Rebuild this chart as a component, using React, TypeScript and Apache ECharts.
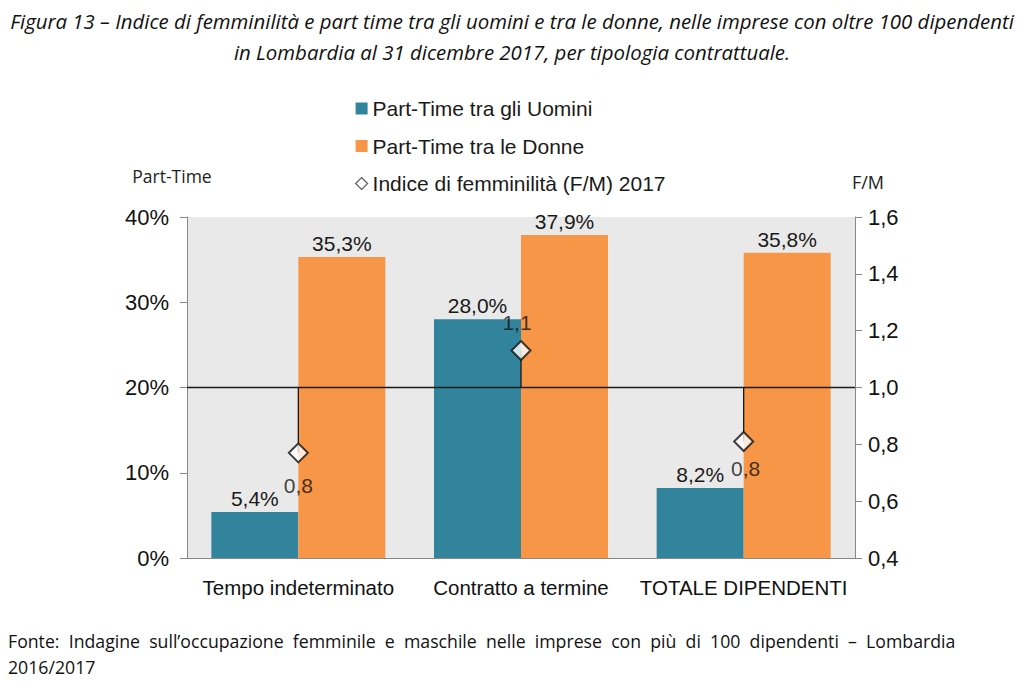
import React, { useEffect, useRef } from "react";
import * as echarts from "echarts";

const categories = ["Tempo indeterminato", "Contratto a termine", "TOTALE DIPENDENTI"];
const partTimeUomini = [5.4, 28.0, 8.2];
const partTimeDonne = [35.3, 37.9, 35.8];
const indiceFemminilita = [0.77, 1.13, 0.81];
const leftTicks = { min: 0, max: 40, interval: 10 };
const rightTicks = { min: 0.4, max: 1.6, interval: 0.2 };
const PARITY = 1.0;

const titleLine1 =
  "Figura 13 – Indice di femminilità e part time tra gli uomini e tra le donne, nelle imprese con oltre 100 dipendenti";
const titleLine2 = "in Lombardia al 31 dicembre 2017, per tipologia contrattuale.";
const sourceLine1 =
  "Fonte:  Indagine  sull’occupazione  femminile  e  maschile  nelle  imprese  con  più  di  100  dipendenti  –  Lombardia";
const sourceLine2 = "2016/2017";

const SERIES_U = "Part-Time tra gli Uomini";
const SERIES_D = "Part-Time tra le Donne";
const SERIES_I = "Indice di femminilità (F/M) 2017";

// label placement styles for the index markers (style, not data)
const indexLabelStyle = [
  { position: "bottom", distance: 12, offset: [0, 0] },
  { position: "top", distance: 7, offset: [-4, 0] },
  { position: "bottom", distance: 6, offset: [2, 0] },
];

const BLUE = "#31849b";
const ORANGE = "#f79646";
const FONT = "Liberation Sans, Arial, sans-serif";
const TFONT = "Open Sans, Noto Sans, sans-serif";

const comma = (v: number, d: number) => v.toFixed(d).replace(".", ",");

export default function App() {
  const ref = useRef<HTMLDivElement>(null);
  useEffect(() => {
    document.body.style.margin = "0";
    const chart = echarts.init(ref.current!, null, { renderer: "svg" });
    const barLabel = {
      show: true,
      position: "top",
      distance: 3,
      fontSize: 21,
      color: "#1a1a1a",
      fontFamily: FONT,
      formatter: (p: any) => comma(p.value, 1) + "%",
    };
    chart.setOption({
      animation: false,
      backgroundColor: "#ffffff",
      textStyle: { fontFamily: FONT },
      grid: {
        left: 187,
        right: 169,
        top: 217,
        bottom: 130,
        show: true,
        backgroundColor: "#e9e9e9",
        borderWidth: 0,
      },
      legend: {
        left: 350,
        top: 93,
        orient: "vertical",
        itemGap: 16.5,
        itemWidth: 12,
        itemHeight: 12,
        itemStyle: { borderWidth: 0 },
        textStyle: { fontSize: 21, color: "#1a1a1a", fontFamily: FONT },
        data: [
          { name: SERIES_U, icon: "rect" },
          { name: SERIES_D, icon: "rect" },
          {
            name: SERIES_I,
            icon: "diamond",
            itemStyle: { color: "#fff", borderColor: "#333", borderWidth: 1.2 },
          },
        ],
      },
      xAxis: {
        type: "category",
        data: categories,
        axisLine: { show: true, lineStyle: { color: "#888", width: 1 } },
        axisTick: { show: false },
        axisLabel: {
          interval: 0,
          fontSize: 20.5,
          color: "#111",
          margin: 19,
          fontFamily: FONT,
        },
      },
      yAxis: [
        {
          type: "value",
          min: leftTicks.min,
          max: leftTicks.max,
          interval: leftTicks.interval,
          axisLine: { show: true, lineStyle: { color: "#888" } },
          axisTick: { show: true, length: 7, lineStyle: { color: "#888" } },
          splitLine: { show: false },
          axisLabel: {
            fontSize: 22,
            color: "#111",
            margin: 18,
            formatter: (v: number) => `${v}%`,
          },
        },
        {
          type: "value",
          position: "right",
          min: rightTicks.min,
          max: rightTicks.max,
          interval: rightTicks.interval,
          axisLine: { show: true, lineStyle: { color: "#888" } },
          axisTick: { show: true, length: 7, lineStyle: { color: "#888" } },
          splitLine: { show: false },
          axisLabel: {
            fontSize: 22,
            color: "#111",
            margin: 13,
            formatter: (v: number) => comma(v, 1),
          },
        },
      ],
      series: [
        {
          name: SERIES_U,
          type: "bar",
          data: partTimeUomini,
          barWidth: 87,
          barGap: "0%",
          itemStyle: { color: BLUE },
          label: barLabel,
        },
        {
          name: SERIES_D,
          type: "bar",
          data: partTimeDonne,
          barWidth: 87,
          barGap: "0%",
          itemStyle: { color: ORANGE },
          label: barLabel,
        },
        {
          name: "stems",
          type: "custom",
          yAxisIndex: 1,
          z: 4,
          silent: true,
          data: indiceFemminilita.map((v, i) => [i, v]),
          renderItem: (params: any, api: any) => {
            const i = api.value(0);
            const p1 = api.coord([i, PARITY]);
            const p2 = api.coord([i, api.value(1)]);
            return {
              type: "line",
              shape: { x1: p1[0], y1: p1[1], x2: p2[0], y2: p2[1] },
              style: { stroke: "#1a1a1a", lineWidth: 1.3 },
            };
          },
          markLine: {
            silent: true,
            symbol: "none",
            label: { show: false },
            lineStyle: { color: "#1a1a1a", type: "solid", width: 1.3 },
            data: [{ yAxis: PARITY }],
          },
        },
        {
          name: SERIES_I,
          type: "scatter",
          yAxisIndex: 1,
          z: 6,
          symbol: "diamond",
          symbolSize: [19, 19],
          itemStyle: { color: "#fff", borderColor: "#111", borderWidth: 2 },
          data: indiceFemminilita.map((v, i) => ({
            value: v,
            label: {
              show: true,
              position: indexLabelStyle[i].position,
              distance: indexLabelStyle[i].distance,
              offset: indexLabelStyle[i].offset,
              fontSize: 21,
              color: "#111",
              fontFamily: FONT,
              formatter: (p: any) => comma(p.value, 1),
            },
          })),
        },
      ],
      graphic: [
        {
          type: "text",
          x: 512,
          y: 21,
          style: {
            text: titleLine1,
            font: `italic 20.4px ${TFONT}`,
            fill: "#111",
            align: "center",
            verticalAlign: "middle",
          },
        },
        {
          type: "text",
          x: 512,
          y: 52,
          style: {
            text: titleLine2,
            font: `italic 20.4px ${TFONT}`,
            fill: "#111",
            align: "center",
            verticalAlign: "middle",
          },
        },
        {
          type: "text",
          x: 172,
          y: 176,
          style: {
            text: "Part-Time",
            font: `17.5px ${TFONT}`,
            fill: "#222",
            align: "center",
            verticalAlign: "middle",
          },
        },
        {
          type: "text",
          x: 868,
          y: 182,
          style: {
            text: "F/M",
            font: `18px ${TFONT}`,
            fill: "#222",
            align: "center",
            verticalAlign: "middle",
          },
        },
        {
          type: "text",
          x: 8,
          y: 641,
          style: {
            text: sourceLine1,
            font: `17.7px ${TFONT}`,
            fill: "#111",
            verticalAlign: "middle",
          },
        },
        {
          type: "text",
          x: 8,
          y: 667,
          style: {
            text: sourceLine2,
            font: `17.7px ${TFONT}`,
            fill: "#111",
            verticalAlign: "middle",
          },
        },
      ],
    });
    return () => chart.dispose();
  }, []);
  return (
    <div
      ref={ref}
      style={{ position: "absolute", left: 0, top: 0, width: 1024, height: 688 }}
    />
  );
}
